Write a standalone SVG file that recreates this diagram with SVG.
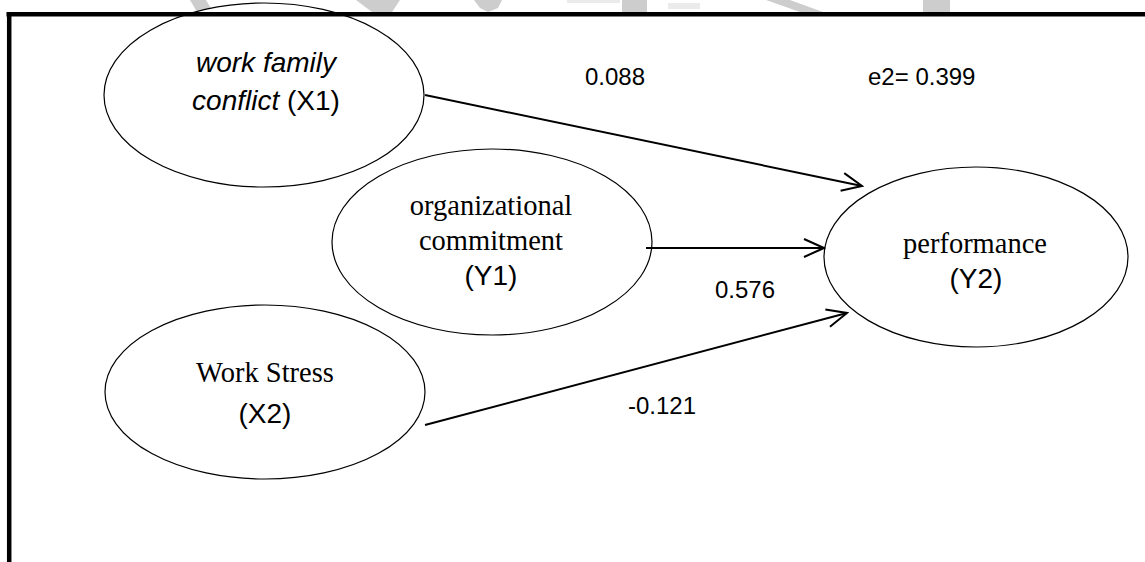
<svg xmlns="http://www.w3.org/2000/svg" width="1145" height="562" viewBox="0 0 1145 562">
<style>
.node{fill:#fff;stroke:#000;stroke-width:1.2}
.serif{font-family:"Liberation Serif","Times New Roman",serif;font-size:28.5px;fill:#000}
.sans{font-family:"Liberation Sans",Arial,sans-serif;font-size:28px;fill:#000}
.lbl{font-family:"Liberation Sans",Arial,sans-serif;font-size:24px;fill:#000}
.edge{stroke:#000;stroke-width:2;fill:none;marker-end:url(#arr)}
.wm{fill:#cdcdcd}
.wm2{fill:#ebebeb}
.frame{stroke:#000;stroke-width:4.5;fill:none}
</style>
<defs>
<marker id="arr" markerUnits="userSpaceOnUse" markerWidth="24" markerHeight="24" viewBox="-22 -12 24 24" refX="0" refY="0" orient="auto">
<path d="M-20,-9 L0,0 L-20,9" fill="none" stroke="#000" stroke-width="2"/>
</marker>
</defs>
<rect width="1145" height="562" fill="#fff"/>
<g id="watermark">
<polygon class="wm" points="190,0 206,0 213,12 197,12"/>
<polygon class="wm" points="356,0 400,0 392,12 372,12"/>
<polygon class="wm" points="474,0 502,0 498,8 488,12 480,8"/>
<rect class="wm2" x="567" y="0" width="53" height="3"/>
<rect class="wm" x="622" y="0" width="25" height="12"/>
<rect class="wm2" x="668" y="3" width="32" height="6"/>
<polygon class="wm" points="766,0 790,0 823,12 800,12"/>
<rect class="wm" x="923" y="0" width="27" height="12"/>
</g>
<g id="X1">
<ellipse class="node" cx="264" cy="95" rx="160" ry="92"/>
<text x="266" y="72" text-anchor="middle" class="sans" font-style="italic">work family</text>
<text x="266" y="110" text-anchor="middle" class="sans"><tspan font-style="italic">conflict</tspan> (X1)</text>
</g>
<g id="Y1">
<ellipse class="node" cx="492" cy="242" rx="160" ry="93"/>
<text x="491" y="215" text-anchor="middle" class="serif">organizational</text>
<text x="491" y="250" text-anchor="middle" class="serif">commitment</text>
<text x="491" y="285" text-anchor="middle" class="sans">(Y1)</text>
</g>
<g id="X2">
<ellipse class="node" cx="265" cy="392" rx="160" ry="87"/>
<text x="265" y="382" text-anchor="middle" class="serif">Work Stress</text>
<text x="265" y="423" text-anchor="middle" class="sans">(X2)</text>
</g>
<g id="Y2">
<ellipse class="node" cx="976" cy="257" rx="152" ry="90"/>
<text x="975" y="253" text-anchor="middle" class="serif">performance</text>
<text x="976" y="288" text-anchor="middle" class="sans">(Y2)</text>
</g>
<g id="frame">
<line class="frame" x1="6.5" y1="14.2" x2="1145" y2="14.2"/>
<line class="frame" x1="9.2" y1="12" x2="9.2" y2="562"/>
</g>
<g id="connectors">
<line class="edge" x1="425" y1="95" x2="862" y2="186"/>
<line class="edge" x1="646" y1="248" x2="824" y2="248"/>
<line class="edge" x1="425" y1="425" x2="847" y2="313"/>
</g>
<g id="labels">
<text x="615" y="85" text-anchor="middle" class="lbl">0.088</text>
<text x="868" y="85" class="lbl">e2= 0.399</text>
<text x="745" y="298" text-anchor="middle" class="lbl">0.576</text>
<text x="662" y="414" text-anchor="middle" class="lbl">-0.121</text>
</g>
</svg>
